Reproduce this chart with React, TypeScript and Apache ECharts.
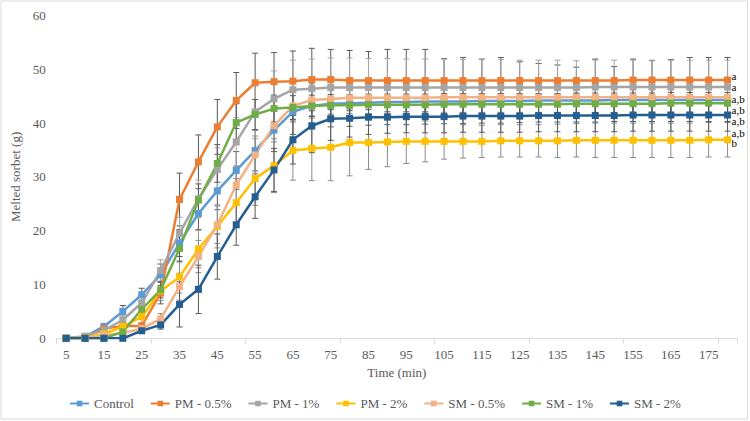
import React, { useEffect, useRef } from "react";
import * as echarts from "echarts";

// Sampling times (min)
const minutes = [
  "5", "10", "15", "20", "25", "30", "35", "40", "45", "50", "55", "60",
  "65", "70", "75", "80", "85", "90", "95", "100", "105", "110", "115", "120",
  "125", "130", "135", "140", "145", "150", "155", "160", "165", "170", "175", "180",
];

// Mean melted mass (g)
const control = [0, 0.3, 2.2, 5.0, 8.1, 11.8, 17.7, 23.2, 27.4, 31.2, 34.9, 38.7, 42.1, 43.2, 43.6, 43.7, 43.8, 43.9, 43.9, 44.0, 44.0, 44.0, 44.1, 44.1, 44.1, 44.2, 44.2, 44.2, 44.2, 44.3, 44.3, 44.3, 44.3, 44.3, 44.3, 44.3];
const pm05 = [0, 0.2, 1.8, 2.3, 2.3, 8.4, 25.8, 32.8, 39.3, 44.2, 47.5, 47.7, 47.8, 48.1, 48.1, 47.9, 47.9, 47.9, 47.9, 47.9, 47.9, 47.9, 47.9, 47.9, 47.9, 47.9, 47.9, 47.9, 47.9, 47.9, 48.0, 48.0, 48.0, 48.0, 48.0, 48.0];
const pm1 = [0, 0.4, 1.5, 3.4, 6.6, 12.6, 19.5, 25.9, 31.4, 36.5, 42.1, 44.5, 46.2, 46.4, 46.6, 46.6, 46.6, 46.6, 46.6, 46.6, 46.6, 46.6, 46.6, 46.6, 46.6, 46.6, 46.6, 46.6, 46.7, 46.7, 46.7, 46.7, 46.7, 46.7, 46.7, 46.7];
const pm2 = [0, 0.1, 0.8, 2.2, 4.0, 8.8, 11.4, 16.6, 20.8, 25.2, 29.7, 32.1, 34.9, 35.3, 35.5, 36.4, 36.4, 36.5, 36.6, 36.6, 36.6, 36.6, 36.6, 36.7, 36.7, 36.7, 36.7, 36.8, 36.8, 36.8, 36.8, 36.8, 36.8, 36.8, 36.9, 36.9];
const sm05 = [0, 0, 0.5, 1.0, 1.8, 3.6, 9.6, 15.2, 21.1, 28.5, 34.1, 39.5, 43.2, 44.3, 44.5, 44.7, 44.7, 44.7, 44.7, 44.7, 44.8, 44.8, 44.8, 44.8, 44.8, 44.8, 44.8, 44.8, 44.8, 44.8, 44.8, 44.8, 44.8, 44.8, 44.8, 44.8];
const sm1 = [0, 0, 0, 1.2, 5.4, 9.0, 16.7, 25.7, 32.5, 40.1, 41.6, 42.7, 42.9, 43.2, 43.3, 43.3, 43.4, 43.4, 43.4, 43.4, 43.5, 43.5, 43.5, 43.5, 43.5, 43.5, 43.5, 43.6, 43.6, 43.6, 43.6, 43.6, 43.7, 43.7, 43.7, 43.7];
const sm2 = [0, 0, 0, 0, 1.4, 2.5, 6.3, 9.1, 15.2, 21.1, 26.3, 31.3, 36.9, 39.5, 40.8, 40.9, 41.1, 41.1, 41.2, 41.2, 41.2, 41.3, 41.3, 41.3, 41.3, 41.4, 41.4, 41.4, 41.4, 41.4, 41.5, 41.5, 41.5, 41.5, 41.5, 41.5];

// Standard deviations (g)
const controlSd = [0, 0.2, 0.4, 1.1, 1.2, 2.0, 2.5, 3.0, 3.5, 3.5, 3.8, 4.0, 4.2, 4.3, 4.3, 4.3, 4.2, 4.2, 4.2, 4.2, 4.1, 4.1, 4.1, 4.1, 4.0, 4.0, 4.0, 4.0, 4.0, 4.0, 4.0, 4.0, 4.0, 4.0, 4.0, 4.0];
const pm05Sd = [0, 0.2, 0.4, 0.4, 0.5, 2.0, 4.9, 5.0, 5.1, 5.2, 5.5, 5.4, 5.6, 5.8, 5.6, 5.6, 5.4, 5.8, 5.8, 5.8, 4.1, 4.3, 4.0, 4.3, 3.5, 3.2, 2.9, 2.5, 4.0, 2.6, 3.9, 3.6, 3.8, 4.2, 4.2, 4.2];
const pm1Sd = [0, 0.3, 0.5, 0.8, 1.5, 2.0, 3.0, 3.5, 4.0, 4.5, 5.0, 5.2, 5.5, 5.5, 5.5, 5.5, 5.4, 5.4, 5.3, 5.3, 5.3, 5.2, 5.2, 5.2, 5.1, 5.1, 5.1, 5.0, 5.0, 5.0, 5.0, 5.0, 5.0, 5.0, 5.0, 5.0];
const pm2Sd = [0, 0.2, 0.6, 1.0, 1.2, 1.8, 3.0, 3.5, 4.0, 4.5, 5.0, 5.0, 5.5, 6.0, 6.2, 6.2, 5.0, 4.6, 4.1, 3.8, 3.3, 3.1, 3.0, 3.0, 3.0, 3.0, 3.1, 3.1, 3.2, 3.2, 3.2, 3.2, 3.2, 3.2, 3.2, 3.2];
const sm05Sd = [0, 0, 0.3, 0.5, 0.5, 1.0, 2.5, 3.0, 3.5, 3.5, 3.5, 3.0, 3.0, 3.0, 3.0, 2.9, 2.9, 2.9, 2.9, 2.8, 2.8, 2.8, 2.8, 2.8, 2.8, 2.8, 2.8, 2.8, 2.8, 2.8, 2.8, 2.8, 2.8, 2.8, 2.8, 2.8];
const sm1Sd = [0, 0, 0, 0.5, 1.0, 1.5, 2.5, 3.0, 3.5, 3.5, 2.8, 2.5, 2.2, 2.0, 2.0, 2.0, 2.0, 2.0, 2.0, 2.0, 2.0, 2.0, 2.0, 2.0, 2.0, 2.0, 2.0, 2.0, 2.0, 2.0, 2.0, 2.0, 2.0, 2.0, 2.0, 2.0];
const sm2Sd = [0, 0, 0, 0, 0.5, 0.8, 4.2, 4.5, 4.2, 3.8, 4.0, 4.0, 4.5, 5.0, 4.0, 3.5, 3.2, 3.0, 3.0, 3.0, 3.0, 3.0, 3.0, 3.0, 3.0, 3.0, 3.0, 3.0, 3.0, 3.0, 3.0, 3.0, 3.0, 3.0, 3.0, 3.0];

// Significance letters at the end of each curve
const letters = ["a,b", "a", "a", "b", "a,b", "a,b", "a,b"];
const yTicks = [0, 10, 20, 30, 40, 50, 60];

const FONT = "'Liberation Serif', 'Times New Roman', serif";
const TEXT = "#595959";

const series = [
  { name: "Control", color: "#5B9BD5", barColor: "#595959", values: control, sd: controlSd, dy: 10.5 },
  { name: "PM - 0.5%", color: "#ED7D31", barColor: "#595959", values: pm05, sd: pm05Sd, dy: -3.6 },
  { name: "PM - 1%", color: "#A5A5A5", barColor: "#A5A5A5", values: pm1, sd: pm1Sd, dy: 0.4 },
  { name: "PM - 2%", color: "#FFC000", barColor: "#8C8C8C", values: pm2, sd: pm2Sd, dy: 3.7 },
  { name: "SM - 0.5%", color: "#F4B183", barColor: "#8C8C8C", values: sm05, sd: sm05Sd, dy: 2.2 },
  { name: "SM - 1%", color: "#70AD47", barColor: "#595959", values: sm1, sd: sm1Sd, dy: 18.3 },
  { name: "SM - 2%", color: "#255E91", barColor: "#595959", values: sm2, sd: sm2Sd, dy: 17.5 },
];

function errorBarSeries(values: number[], sd: number[], color: string) {
  return {
    type: "custom",
    silent: true,
    z: 1,
    renderItem: (_params: any, api: any) => {
      const i = api.value(0);
      const top = api.coord([i, api.value(2)]);
      const bot = api.coord([i, api.value(1)]);
      const w = 3;
      const style = { stroke: color, lineWidth: 1 };
      return {
        type: "group",
        children: [
          { type: "line", shape: { x1: top[0], y1: top[1], x2: bot[0], y2: bot[1] }, style },
          { type: "line", shape: { x1: top[0] - w, y1: top[1], x2: top[0] + w, y2: top[1] }, style },
          { type: "line", shape: { x1: bot[0] - w, y1: bot[1], x2: bot[0] + w, y2: bot[1] }, style },
        ],
      };
    },
    encode: { x: 0, y: [1, 2] },
    data: values.map((v, i) => [i, v - sd[i], v + sd[i]]),
  };
}

export default function App() {
  const ref = useRef<HTMLDivElement>(null);

  useEffect(() => {
    document.body.style.margin = "0";
    if (!ref.current) return;
    const chart = echarts.init(ref.current, undefined, { renderer: "svg" });

    const lineSeries = series.map((s, k) => ({
      type: "line",
      name: s.name,
      data: s.values,
      z: 3,
      symbol: "rect",
      symbolSize: 7,
      showAllSymbol: true,
      lineStyle: { color: s.color, width: 2.5 },
      itemStyle: { color: s.color },
      emphasis: { disabled: true },
      endLabel: {
        show: true,
        formatter: letters[k],
        offset: [0, s.dy],
        distance: 4,
        color: "#000",
        fontSize: 11,
        lineHeight: 8,
        fontFamily: FONT,
      },
    }));

    const bars = series.map((s) => errorBarSeries(s.values, s.sd, s.barColor));

    chart.setOption({
      animation: false,
      textStyle: { fontFamily: FONT },
      graphic: [
        {
          type: "rect",
          shape: { x: 1, y: 1, width: 746.5, height: 418 },
          style: { fill: "none", stroke: "#d9d9d9", lineWidth: 1 },
          silent: true,
        },
      ],
      grid: { left: 56.7, right: 13, top: 15.5, bottom: 82.7, containLabel: false },
      legend: {
        data: series.map((s) => s.name),
        top: 392,
        left: "center",
        itemWidth: 19,
        itemHeight: 7,
        itemGap: 16,
        textStyle: { color: TEXT, fontSize: 13, fontFamily: FONT },
      },
      xAxis: {
        type: "category",
        data: minutes,
        boundaryGap: true,
        name: "Time (min)",
        nameLocation: "middle",
        nameGap: 28,
        nameTextStyle: { color: TEXT, fontSize: 13, fontFamily: FONT },
        axisLine: { lineStyle: { color: "#d9d9d9", width: 1 } },
        axisTick: { show: true, interval: 4, alignWithLabel: false, length: 5, lineStyle: { color: "#d9d9d9" } },
        axisLabel: { interval: 1, color: TEXT, fontSize: 13, fontFamily: FONT, margin: 10 },
        splitLine: { show: false },
      },
      yAxis: {
        type: "value",
        min: yTicks[0],
        max: yTicks[yTicks.length - 1],
        interval: 10,
        name: "Melted sorbet (g)",
        nameLocation: "middle",
        nameGap: 20,
        nameTextStyle: { color: TEXT, fontSize: 13, fontFamily: FONT },
        axisLine: { show: false },
        axisTick: { show: false },
        splitLine: { show: false },
        axisLabel: { color: TEXT, fontSize: 13, fontFamily: FONT, margin: 11 },
      },
      series: [...bars, ...lineSeries],
    });

    return () => chart.dispose();
  }, []);

  return <div ref={ref} style={{ width: 750, height: 421 }} />;
}
